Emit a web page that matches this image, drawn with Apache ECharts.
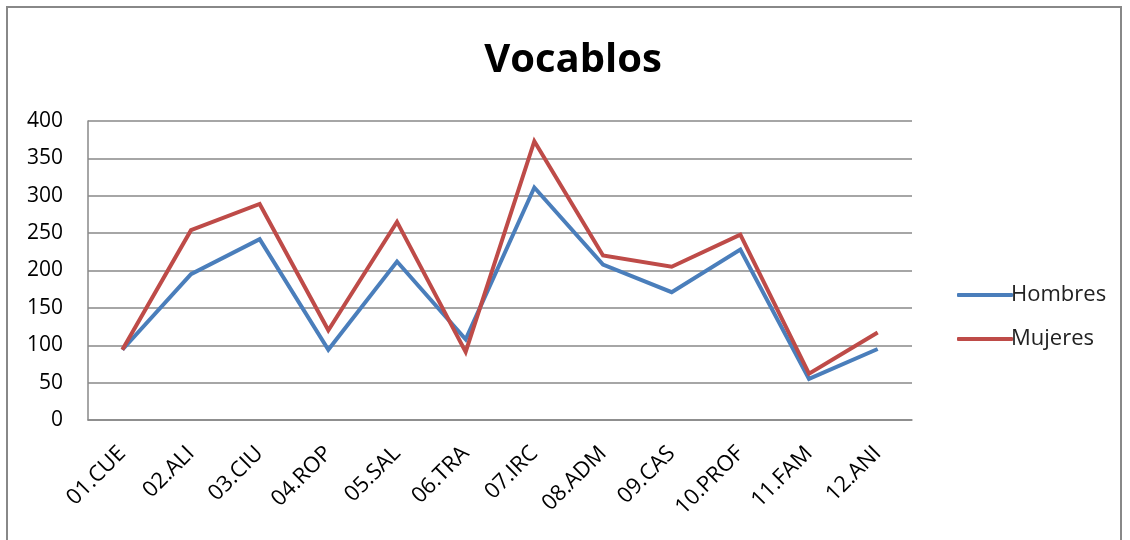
<!DOCTYPE html>
<html>
<head>
<meta charset="utf-8">
<script src="https://cdn.jsdelivr.net/npm/echarts@6/dist/echarts.min.js"></script>
<style>
  html, body { margin: 0; padding: 0; background: #fff; }
  #chart { width: 1130px; height: 540px; }
</style>
</head>
<body>
<div id="chart"></div>
<script>
const categories = ["01.CUE", "02.ALI", "03.CIU", "04.ROP", "05.SAL", "06.TRA",
  "07.IRC", "08.ADM", "09.CAS", "10.PROF", "11.FAM", "12.ANI"];
const hombres = [94, 195, 242, 94, 212, 108, 311, 208, 171, 228, 55, 95];
const mujeres = [94, 254, 289, 120, 265, 91, 373, 220, 205, 248, 62, 117];
const yTicks = [0, 50, 100, 150, 200, 250, 300, 350, 400];

const font = "'Open Sans', 'Noto Sans', sans-serif";
const myChart = echarts.init(document.getElementById("chart"));

const option = {
  animation: false,
  backgroundColor: "#fff",
  textStyle: { fontFamily: font },
  title: {
    text: "Vocablos",
    left: 568,
    top: 36,
    textAlign: "center",
    textStyle: { fontSize: 40, fontWeight: "bold", color: "#000", fontFamily: font }
  },
  graphic: [
    {
      type: "rect",
      shape: { x: 7, y: 7, width: 1114, height: 560 },
      style: { fill: "none", stroke: "#888", lineWidth: 2 },
      silent: true
    }
  ],
  legend: {
    orient: "vertical",
    left: 952,
    top: 279,
    itemWidth: 56,
    itemHeight: 4,
    itemGap: 22,
    icon: "roundRect",
    textStyle: { fontSize: 22, color: "#222", padding: [0, 0, 0, -7] },
    data: ["Hombres", "Mujeres"]
  },
  grid: { left: 88, top: 121, width: 824, height: 299 },
  xAxis: {
    type: "category",
    data: categories,
    boundaryGap: true,
    axisLine: { show: true, lineStyle: { color: "#888", width: 1.5 } },
    axisTick: { show: false },
    axisLabel: {
      rotate: 45,
      fontSize: 22,
      color: "#000",
      margin: 30,
      interval: 0
    }
  },
  yAxis: {
    type: "value",
    min: yTicks[0],
    max: yTicks[yTicks.length - 1],
    interval: 50,
    axisLine: { show: true, lineStyle: { color: "#888", width: 1.5 } },
    axisTick: { show: false },
    splitLine: { lineStyle: { color: "#888", width: 1.5 } },
    axisLabel: { fontSize: 21, color: "#000", margin: 25 }
  },
  series: [
    {
      name: "Hombres",
      type: "line",
      data: hombres,
      symbol: "none",
      lineStyle: { color: "#4a7ebb", width: 4, join: "miter" },
      itemStyle: { color: "#4a7ebb" }
    },
    {
      name: "Mujeres",
      type: "line",
      data: mujeres,
      symbol: "none",
      lineStyle: { color: "#be4b48", width: 4, join: "miter" },
      itemStyle: { color: "#be4b48" }
    }
  ]
};

myChart.setOption(option);
</script>
</body>
</html>
